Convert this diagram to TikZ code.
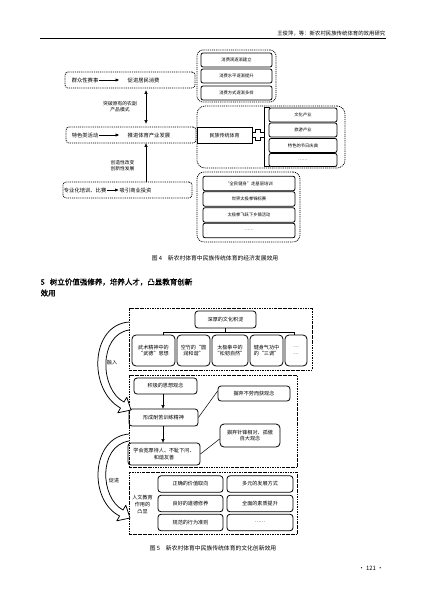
\documentclass[tikz,border=0pt]{standalone}
\usepackage{fontspec}
\setmainfont{Noto Sans CJK SC}
\newfontfamily\hbf[FakeBold=1.2]{Noto Sans CJK SC}
\usetikzlibrary{arrows.meta,calc}
\begin{document}
\begin{tikzpicture}[x=1pt,y=-1pt,
  every node/.style={inner sep=0.5pt},
  dbox/.style={draw, dash pattern=on 1pt off 0.9pt, line width=0.75pt, rounded corners=3pt, inner sep=0pt},
  ibox/.style={draw, line width=0.8pt, rounded corners=2pt, inner sep=0pt, align=center},
  ddbox/.style={draw, dash pattern=on 2.5pt off 1pt on 0.6pt off 1pt, line width=0.7pt, inner sep=0pt},
  fa/.style={font=\fontsize{5.3}{6.5}\selectfont},
  fl/.style={font=\fontsize{4.8}{6.6}\selectfont, align=center},
  fb/.style={font=\fontsize{4.3}{5}\selectfont},
  fc/.style={font=\fontsize{5.1}{6.6}\selectfont, align=center},
  capt/.style={font=\fontsize{5.8}{7}\selectfont},
  arr/.style={-{Triangle[length=3.5pt,width=3pt]}, line width=0.5pt},
  darr/.style={{Triangle[length=3.5pt,width=3pt]}-{Triangle[length=3.5pt,width=3pt]}, line width=0.5pt},
  hollow/.style={draw, fill=white, line width=0.75pt, line join=round},
]
\useasboundingbox (0,0) rectangle (427,603);
% header
\coordinate (hl) at (40,38);
\coordinate (hr) at (386,38);
\draw[line width=0.9pt] (hl) -- (hr);
\node[anchor=east, font=\fontsize{5.4}{6}\selectfont] (head) at (386,33) {王俊萍，等：新农村民族传统体育的效用研究};

% ---------- Figure 4 ----------
\node[dbox, minimum width=130pt, minimum height=16pt] (g1) at (130,80) {};
\node[fa, anchor=east] (t1a) at (99,80) {群众性赛事};
\node[fa, anchor=west] (t1b) at (127,80) {促进居民消费};
\draw[arr, shorten >=8pt] (t1a) -- (t1b);

\node[dbox, minimum width=130pt, minimum height=16pt] (g2) at (131,135) {};
\node[fa, anchor=east] (t2a) at (99,135) {特色类活动};
\node[fa, anchor=west] (t2b) at (127,135) {推进体育产业发展};
\draw[arr, shorten >=8pt] (t2a) -- (t2b);

\node[dbox, minimum width=129pt, minimum height=16pt] (g3) at (127.5,190) {};
\node[fa, anchor=east] (t3a) at (107,190) {专业化培训、比赛};
\node[fa, anchor=west] (t3b) at (119,190) {吸引商业投资};
\draw[arr, shorten >=0.5pt] (t3a) -- (t3b);

\coordinate (ax) at (146,0);
\draw[darr, shorten <=2pt, shorten >=3pt] (g1.south -| ax) -- (g2.north -| ax);
\draw[arr] (g3.north -| ax) -- (g2.south -| ax);
\node[fl] (l1) at (120,106.5) {突破原有的农副\\产品模式};
\node[fl] (l2) at (122.5,165.5) {创造性改变\\创新性发展};

% group A
\node[dbox, rounded corners=6pt, minimum width=79pt, minimum height=52pt] (ga) at (236.5,76) {};
\node[ibox, fb, minimum width=71pt, minimum height=14pt] (a1) at (236.5,60) {消费观逐渐建立};
\node[ibox, fb, minimum width=71pt, minimum height=14pt] (a2) at (236.5,76) {消费水平逐渐提升};
\node[ibox, fb, minimum width=71pt, minimum height=14pt] (a3) at (236.5,93) {消费方式逐渐多样};

% group B
\node[dbox, rounded corners=8pt, minimum width=148pt, minimum height=62pt] (gb) at (271,137) {};
\node[draw, line width=0.8pt, font=\fontsize{5}{6}\selectfont, minimum width=55pt, minimum height=16pt, inner sep=0pt] (mz) at (224.5,135.5) {民族传统体育};
\draw[line width=0.6pt, fill=white] (255.5,129.5) -- (260.5,129.5) -- (260.5,132.5) -- (264,132.5) -- (264,137.5) -- (260.5,137.5) -- (260.5,140.5) -- (255.5,140.5) -- (255.5,137.5) -- (252,137.5) -- (252,132.5) -- (255.5,132.5) -- cycle;
\draw[line width=0.8pt] (270,107) -- (264,107) -- (264,166) -- (270,166);
\node[ibox, fb, minimum width=68pt, minimum height=14pt] (b1) at (303,115) {文化产业};
\node[ibox, fb, minimum width=68pt, minimum height=14pt] (b2) at (303,130) {旅游产业};
\node[ibox, fb, minimum width=68pt, minimum height=14pt] (b3) at (303,145.5) {特色的节日庆典};
\node[ibox, fb, minimum width=68pt, minimum height=13pt] (b4) at (303,160) {……};

% group C
\node[dbox, rounded corners=7pt, minimum width=103pt, minimum height=70pt] (gc) at (248.5,207) {};
\node[ibox, fb, minimum width=92pt, minimum height=14.5pt] (c1) at (249,183.5) {“全民健身”走基层培训};
\node[ibox, fb, minimum width=92pt, minimum height=14.5pt] (c2) at (249,199) {世界太极拳锦标赛};
\node[ibox, fb, minimum width=92pt, minimum height=14.5pt] (c3) at (249,215) {太极拳飞跃下乡镇活动};
\node[ibox, fb, minimum width=92pt, minimum height=14.5pt] (c4) at (249,230.5) {……};

\node[capt] (cap4) at (215,258) {图 4\quad 新农村体育中民族传统体育的经济发展效用};

% section heading
\node[anchor=west, font=\fontsize{7.5}{9}\hbf] (sec1) at (40,282) {5\hspace{5pt}树立价值强修养，培养人才，凸显教育创新};
\node[anchor=west, font=\fontsize{7.5}{9}\hbf] (sec2) at (40,293) {效用};

% ---------- Figure 5 ----------
\node[ddbox, minimum width=183pt, minimum height=62pt] (T) at (220.5,339) {};
\node[ibox, fc, minimum width=61pt, minimum height=17pt, rounded corners=3pt] (root) at (225.5,319.5) {深厚的文化积淀};
\node[ibox, fc, minimum width=43pt, minimum height=31pt, rounded corners=4pt] (k1) at (153.5,350.5) {武术精神中的\\“武德”思想};
\node[ibox, fc, minimum width=33pt, minimum height=31pt, rounded corners=4pt] (k2) at (193.5,350.5) {空竹的“圆\\润和谐”};
\node[ibox, fc, minimum width=36pt, minimum height=31pt, rounded corners=4pt] (k3) at (230,350.5) {太极拳中的\\“松韧自然”};
\node[ibox, fc, minimum width=33pt, minimum height=31pt, rounded corners=4pt] (k4) at (266.5,350.5) {健身气功中\\的“三调”};
\node[ibox, fc, minimum width=22pt, minimum height=31pt, rounded corners=4pt] (k5) at (296,350.5) {…\\…};
\coordinate (bl) at (163,332);
\coordinate (br) at (294,332);
\draw[line width=0.6pt] (root.south) -- (root.south |- bl);
\draw[line width=0.6pt] (bl) -- (br);
\draw[line width=0.6pt] (bl) -- (bl |- k1.north);
\draw[line width=0.6pt] (br) -- (br |- k5.north);

\node[ddbox, minimum width=168pt, minimum height=92pt] (M) at (213,421) {};
\node[ibox, fc, minimum width=63pt, minimum height=16pt, rounded corners=3pt] (m1) at (165.5,386) {积极的思想观念};
\node[ibox, fc, minimum width=69pt, minimum height=17pt, rounded corners=3pt] (m2) at (163.5,417.5) {形成耐苦训练精神};
\node[ibox, fc, minimum width=72pt, minimum height=22pt, rounded corners=3pt] (m3) at (164,454) {学会宽厚待人、不耻下问、\\和谐友善};
\node[ibox, fc, minimum width=72pt, minimum height=15pt, rounded corners=3pt] (r1) at (254,393.5) {摒弃不劳而获观念};
\node[ibox, fc, minimum width=60pt, minimum height=23pt, rounded corners=4pt] (r2) at (250,435.5) {摒弃针锋相对、孤傲\\自大观念};
\draw[arr] (m1.south -| bl) -- (m2.north -| bl);
\draw[arr] (m2.south -| bl) -- (m3.north -| bl);
\draw[line width=0.5pt] (m2.east) -- ([yshift=2.5pt]r1.west);
\draw[line width=0.5pt] (m3.east) -- ([yshift=-3.5pt]r2.west);

\node[ddbox, minimum width=168pt, minimum height=62pt] (B) at (213,503) {};
\node[fc] (hum) at (142.5,504.5) {人文教育\\作用的\\凸显};
\node[ibox, fc, minimum width=65pt, minimum height=16.5pt, rounded corners=3pt] (p1) at (190.5,484) {正确的价值取向};
\node[ibox, fc, minimum width=65pt, minimum height=16.5pt, rounded corners=3pt] (p2) at (190.5,503.5) {良好的道德修养};
\node[ibox, fc, minimum width=65pt, minimum height=16.5pt, rounded corners=3pt] (p3) at (190.5,522.5) {规范的行为准则};
\node[ibox, fc, minimum width=66pt, minimum height=16.5pt, rounded corners=3pt] (q1) at (260,484) {多元的发展方式};
\node[ibox, fc, minimum width=66pt, minimum height=16.5pt, rounded corners=3pt] (q2) at (260,503.5) {全面的素质提升};
\node[ibox, fc, minimum width=66pt, minimum height=16.5pt, rounded corners=3pt] (q3) at (260,522.5) {……};

% hollow curved arrows
\draw[hollow] (129,322) .. controls (90,325) and (88,390) .. (120.5,408) -- (117.8,412.8) -- (131,410) -- (126.8,397.2) -- (124,402) .. controls (100,390) and (98,335) .. (129,330);
\draw[hollow] (129,434) .. controls (91,437) and (88,500) .. (119.6,516) -- (116.8,520.8) -- (130,518) -- (125.8,505.2) -- (123,510) .. controls (100,498) and (98,446) .. (129,441);
\node[fc] (rr) at (112,363) {融入};
\node[fc] (cj) at (114,481) {促进};

\node[capt] (cap5) at (213,548) {图 5\quad 新农村体育中民族传统体育的文化创新效用};
\node[font=\fontsize{6}{7}\selectfont] (pg) at (371,568) {• 121 •};
\end{tikzpicture}
\end{document}
